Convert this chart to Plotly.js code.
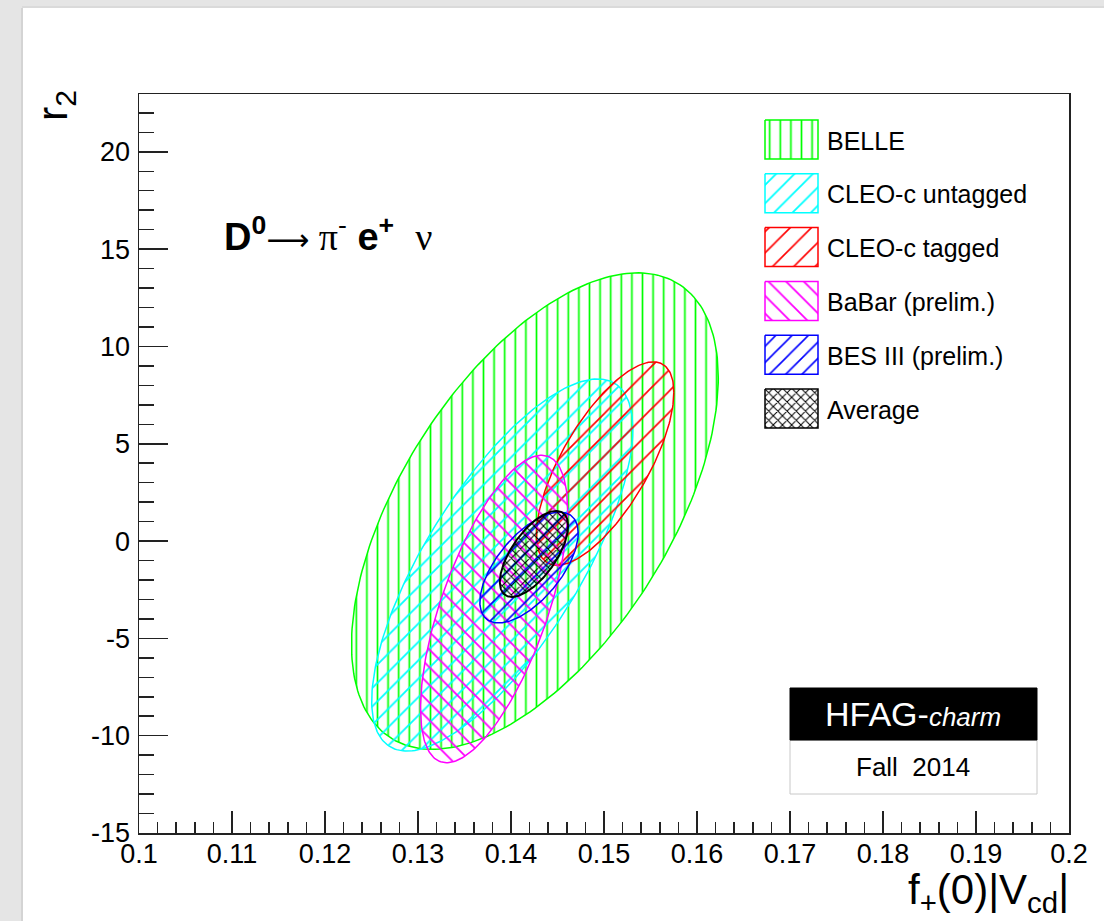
<!DOCTYPE html>
<html><head><meta charset="utf-8">
<script src="https://cdn.plot.ly/plotly-3.0.1.min.js"></script>
<style>html,body{margin:0;padding:0;background:#fff;} #plot{width:1104px;height:921px;}</style>
</head><body><div id="plot"></div>
<script>
// ---- data (contour ellipses) ----
const experiments = ['BELLE', 'CLEO-c untagged', 'CLEO-c tagged', 'BaBar (prelim.)', 'BES III (prelim.)', 'Average'];
const fVcdCentre = [0.14257, 0.13906, 0.15012, 0.13818, 0.14194, 0.14247];
const fVcdHalfWidth = [0.01972, 0.01404, 0.00739, 0.00791, 0.00529, 0.00367];
const r2Centre = [1.54, -1.23, 3.98, -3.49, -1.36, -0.66];
const r2HalfWidth = [12.24, 9.56, 5.225, 7.90, 2.85, 2.21];
const correlation = [0.56, 0.73, 0.70, 0.645, 0.62, 0.65];
const xTickVals = [0.1, 0.11, 0.12, 0.13, 0.14, 0.15, 0.16, 0.17, 0.18, 0.19, 0.2];
const xTickText = ['0.1', '0.11', '0.12', '0.13', '0.14', '0.15', '0.16', '0.17', '0.18', '0.19', '0.2'];
const yTickVals = [-15, -10, -5, 0, 5, 10, 15, 20];
const yTickText = ['-15', '-10', '-5', '0', '5', '10', '15', '20'];

// ---- styles ----
const colors = ['#00ff00', '#00ffff', '#ff0000', '#ff00ff', '#0000ff', '#000000'];
const hatch = ['|', '/', '/', '\\', '/', 'x'];
const hatchSize = [10.6, 13, 15, 12.5, 11.5, 6.5];
const hatchWidth = [1.7, 1.8, 1.6, 1.8, 1.6, 1.9];

const L = 139, R = 1069, T = 94, B = 833, W = 1104, H = 921;
const px2paperX = p => (p - L) / (R - L);
const px2paperY = p => (B - p) / (B - T);

function ellipse(i) {
  const xs = [], ys = [];
  const N = 240, s = Math.sqrt(1 - correlation[i] * correlation[i]);
  for (let k = 0; k <= N; k++) {
    const t = 2 * Math.PI * k / N;
    xs.push(fVcdCentre[i] + fVcdHalfWidth[i] * Math.cos(t));
    ys.push(r2Centre[i] + r2HalfWidth[i] * (correlation[i] * Math.cos(t) + s * Math.sin(t)));
  }
  return {xs, ys};
}
function pattern(i) {
  return {shape: hatch[i], fgcolor: colors[i], bgcolor: 'rgba(0,0,0,0)', fillmode: 'replace',
          size: hatchSize[i], solidity: hatchWidth[i] / hatchSize[i], fgopacity: 1};
}

const traces = [];
experiments.forEach((name, i) => {
  const e = ellipse(i);
  traces.push({x: e.xs, y: e.ys, type: 'scatter', mode: 'lines', name: name, fill: 'toself',
    fillcolor: 'rgba(0,0,0,0)', fillpattern: pattern(i),
    line: {color: colors[i], width: i === 5 ? 2 : 1.5}, hoverinfo: 'name', showlegend: false});
});

// legend swatches in pixel space (overlay axes x2/y2)
const legX0 = 765, legX1 = 818, legTop0 = 120, legStep = 53.8, legH = 39;
const annotations = [];
experiments.forEach((name, i) => {
  const y0 = legTop0 + i * legStep, y1 = y0 + legH;
  traces.push({x: [legX0, legX1, legX1, legX0, legX0], y: [y0, y0, y1, y1, y0], xaxis: 'x2', yaxis: 'y2',
    type: 'scatter', mode: 'lines', fill: 'toself', fillcolor: 'rgba(0,0,0,0)', fillpattern: pattern(i),
    line: {color: colors[i], width: 1.5}, hoverinfo: 'skip', showlegend: false});
  annotations.push({xref: 'x2', yref: 'y2', x: 825, y: (y0 + y1) / 2 + 1, xanchor: 'left', yanchor: 'middle',
    text: name, showarrow: false, font: {family: 'Liberation Sans, Arial', size: 25, color: '#000'}});
});

const serif = "font-family:'Liberation Serif', 'Times New Roman', serif";
annotations.push({xref: 'x2', yref: 'y2', x: 222, y: 234, xanchor: 'left', yanchor: 'middle', showarrow: false,
  font: {family: 'Liberation Sans, Arial', size: 38, color: '#000'},
  text: "<b>D<sup>0</sup></b><span style=\"font-family:'DejaVu Sans';font-size:30px\">\u27f6</span><span style=\"" + serif + "\"> \u03c0</span><sup>-</sup> <b>e<sup>+</sup></b>  <span style=\"" + serif + "\">\u03bd</span>"});
annotations.push({xref: 'x2', yref: 'y2', x: 913, y: 714, xanchor: 'center', yanchor: 'middle', showarrow: false,
  font: {family: 'Liberation Sans, Arial', size: 34, color: '#fff'},
  text: "HFAG-<span style=\"font-size:26px\"><i>charm</i></span>"});
annotations.push({xref: 'x2', yref: 'y2', x: 913, y: 767, xanchor: 'center', yanchor: 'middle', showarrow: false,
  font: {family: 'Liberation Sans, Arial', size: 26, color: '#000'}, text: "Fall\u00a0 2014"});
// axis titles
annotations.push({xref: 'paper', yref: 'paper', x: px2paperX(55), y: px2paperY(106), xanchor: 'center', yanchor: 'middle',
  textangle: -90, showarrow: false, font: {family: 'Liberation Sans, Arial', size: 43, color: '#000'}, text: "r<sub>2</sub>"});
annotations.push({xref: 'paper', yref: 'paper', x: px2paperX(1071), y: px2paperY(864), xanchor: 'right', yanchor: 'top',
  showarrow: false, font: {family: 'Liberation Sans, Arial', size: 42, color: '#000'}, text: "f<sub>+</sub>(0)|V<sub>cd</sub>|"});

const shapes = [
  {type: 'rect', xref: 'paper', yref: 'paper', layer: 'below', x0: px2paperX(23), x1: px2paperX(W + 5), y0: px2paperY(H + 5), y1: px2paperY(8),
   fillcolor: '#ffffff', line: {width: 0}},
  {type: 'line', xref: 'paper', yref: 'paper', layer: 'below', x0: px2paperX(22), x1: px2paperX(22), y0: px2paperY(H + 5), y1: px2paperY(8),
   line: {color: '#d4d4d4', width: 2}},
  {type: 'line', xref: 'paper', yref: 'paper', layer: 'below', x0: px2paperX(22), x1: px2paperX(W + 5), y0: px2paperY(7), y1: px2paperY(7),
   line: {color: '#dadada', width: 2}},
  {type: 'rect', xref: 'x2', yref: 'y2', x0: 790, x1: 1037, y0: 740, y1: 794, fillcolor: '#fff', line: {color: '#c8c8c8', width: 1}},
  {type: 'rect', xref: 'x2', yref: 'y2', x0: 790, x1: 1037, y0: 688, y1: 740, fillcolor: '#000', line: {color: '#000', width: 1}}
];

const tickFont = {family: 'Liberation Sans, Arial', size: 27, color: '#000'};
const layout = {
  width: W, height: H, margin: {l: L, r: W - R, t: T, b: H - B, pad: 0},
  paper_bgcolor: '#e5e5e5', plot_bgcolor: '#ffffff', showlegend: false,
  xaxis: {range: [0.1, 0.2], tickmode: 'array', tickvals: xTickVals, ticktext: xTickText, ticks: 'inside', ticklen: 22,
    tickwidth: 1.5, tickcolor: '#222', showline: true, mirror: true, linecolor: '#222', linewidth: 1.5,
    showgrid: false, zeroline: false, tickfont: tickFont, ticklabelstandoff: -4,
    minor: {tickmode: 'linear', tick0: 0.1, dtick: 0.002, ticks: 'inside', ticklen: 11, tickwidth: 1.5, tickcolor: '#222', showgrid: false}},
  yaxis: {range: [-15, 22.97], tickmode: 'array', tickvals: yTickVals, ticktext: yTickText, ticks: 'inside', ticklen: 29,
    tickwidth: 1.5, tickcolor: '#222', showline: true, mirror: true, linecolor: '#222', linewidth: 1.5,
    showgrid: false, zeroline: false, tickfont: tickFont, ticklabelstandoff: 2,
    minor: {tickmode: 'linear', tick0: 0, dtick: 1, ticks: 'inside', ticklen: 15, tickwidth: 1.5, tickcolor: '#222', showgrid: false}},
  xaxis2: {overlaying: 'x', range: [L, R], visible: false, fixedrange: true},
  yaxis2: {overlaying: 'y', range: [B, T], visible: false, fixedrange: true},
  annotations: annotations, shapes: shapes
};
Plotly.newPlot('plot', traces, layout, {staticPlot: true, displayModeBar: false});
</script>
</body></html>
